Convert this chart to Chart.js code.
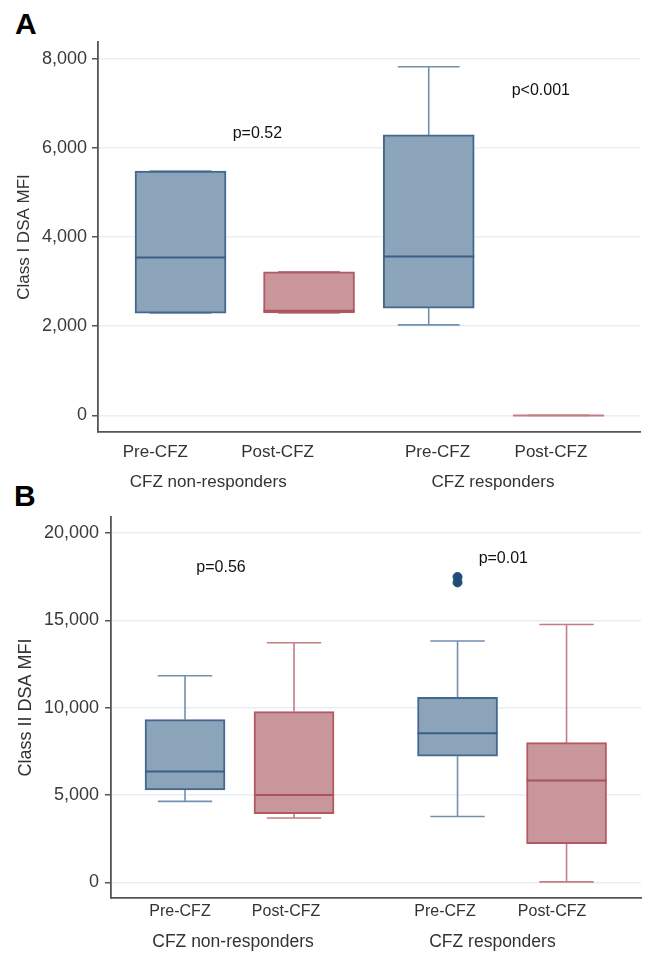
<!DOCTYPE html>
<html>
<head>
<meta charset="utf-8">
<script src="https://cdn.jsdelivr.net/npm/chart.js@4"></script>
<style>
  body { margin: 0; background: #fff; width: 647px; height: 953px; position: relative; overflow: hidden; }
  .panel { position: absolute; left: 0; width: 647px; }
  .letter { position: absolute; font: bold 30px "Liberation Sans", Arial, sans-serif; color: #000; }
</style>
</head>
<body>
<div class="letter" style="left:15px;top:7px;">A</div>
<div class="letter" style="left:14px;top:479px;">B</div>
<div class="panel" style="top:0;height:500px;"><canvas id="chartA"></canvas></div>
<div class="panel" style="top:500px;height:453px;"><canvas id="chartB"></canvas></div>
<script>
document.addEventListener('DOMContentLoaded', function () {
    // categories
    const tickLabels = ['Pre-CFZ', 'Post-CFZ', 'Pre-CFZ', 'Post-CFZ'];
    const groupLabels = ['CFZ non-responders', 'CFZ responders'];
    const isPost = [false, true, false, true];

    // Class I DSA MFI (panel A)
    const minA = [2295, 2300, 2030, 0];
    const q1A = [2295, 2300, 2405, 0];
    const medA = [3540, 2345, 3565, 0];
    const q3A = [5480, 3220, 6290, 0];
    const maxA = [5480, 3220, 7820, 0];
    const outA = [[], [], [], []];
    const yTicksA = [0, 2000, 4000, 6000, 8000];
    const pTextA = ['p=0.52', 'p<0.001'];

    // Class II DSA MFI (panel B)
    const minB = [4640, 3690, 3770, 30];
    const q1B = [5290, 3930, 7220, 2220];
    const medB = [6350, 5010, 8540, 5830];
    const q3B = [9320, 9780, 10600, 8000];
    const maxB = [11830, 13720, 13820, 14760];
    const outB = [[], [], [17480, 17170], []];
    const yTicksB = [0, 5000, 10000, 15000, 20000];
    const pTextB = ['p=0.56', 'p=0.01'];

    const FONT = '"Liberation Sans", Arial, sans-serif';
    const blue = { fill: '#8ca4b9', border: '#43678d', median: '#3a5e85', whisker: '#7091b0' };
    const red = { fill: '#c9979b', border: '#b25a64', median: '#a9535c', whisker: '#c47d84' };

    function boxPlot(id, o) {
        const n = o.med.length;
        const boxData = o.med.map((m, i) => ({ x: o.xPos[i], y: [o.q1[i], o.q3[i]] }));
        const outData = [];
        o.out.forEach((vals, i) => vals.forEach(v => outData.push({ x: o.xPos[i], y: v })));
        const colors = isPost.map(p => p ? red : blue);

        const whiskers = {
            id: 'whiskers',
            beforeDatasetsDraw(chart) {
                const { ctx, scales: { x, y } } = chart;
                ctx.save();
                ctx.lineWidth = 1.6;
                for (let i = 0; i < n; i++) {
                    const cx = x.getPixelForValue(o.xPos[i]);
                    const half = o.boxWidth * 0.34;
                    ctx.strokeStyle = colors[i].whisker;
                    ctx.beginPath();
                    ctx.moveTo(cx, y.getPixelForValue(o.max[i]));
                    ctx.lineTo(cx, y.getPixelForValue(o.q3[i]));
                    ctx.moveTo(cx, y.getPixelForValue(o.q1[i]));
                    ctx.lineTo(cx, y.getPixelForValue(o.min[i]));
                    ctx.moveTo(cx - half, y.getPixelForValue(o.max[i]));
                    ctx.lineTo(cx + half, y.getPixelForValue(o.max[i]));
                    ctx.moveTo(cx - half, y.getPixelForValue(o.min[i]));
                    ctx.lineTo(cx + half, y.getPixelForValue(o.min[i]));
                    ctx.stroke();
                }
                ctx.restore();
            },
            afterDatasetsDraw(chart) {
                const { ctx, scales: { x, y } } = chart;
                ctx.save();
                for (let i = 0; i < n; i++) {
                    const cx = x.getPixelForValue(o.xPos[i]);
                    const half = o.boxWidth / 2;
                    const my = y.getPixelForValue(o.med[i]);
                    const flat = o.q1[i] === o.q3[i];
                    ctx.strokeStyle = flat ? colors[i].whisker : colors[i].median;
                    ctx.lineWidth = 2;
                    ctx.beginPath();
                    ctx.moveTo(cx - half, my);
                    ctx.lineTo(cx + half, my);
                    ctx.stroke();
                }
                ctx.fillStyle = '#111';
                ctx.font = o.pFont + 'px ' + FONT;
                ctx.textAlign = 'center';
                ctx.textBaseline = 'middle';
                o.pText.forEach((t, i) => {
                    ctx.fillText(t, x.getPixelForValue(o.pPos[i][0]), y.getPixelForValue(o.pPos[i][1]));
                });
                ctx.restore();
            }
        };

        return new Chart(document.getElementById(id), {
            data: {
                datasets: [
                    {
                        type: 'bar',
                        data: boxData,
                        backgroundColor: colors.map(c => c.fill),
                        borderColor: colors.map(c => c.border),
                        borderWidth: 2,
                        borderSkipped: false,
                        barThickness: o.boxWidth,
                        grouped: false,
                        order: 2
                    },
                    {
                        type: 'scatter',
                        data: outData,
                        pointRadius: 4.5,
                        pointBackgroundColor: '#1f4c78',
                        pointBorderColor: '#1f4c78',
                        order: 1
                    }
                ]
            },
            options: {
                responsive: true,
                maintainAspectRatio: false,
                animation: false,
                layout: { padding: o.padding },
                plugins: { legend: { display: false }, tooltip: { enabled: false } },
                scales: {
                    x: {
                        type: 'linear',
                        offset: false,
                        min: o.xMin, max: o.xMax,
                        grid: { display: false, drawTicks: false, offset: false },
                        border: { display: true, color: '#555', width: 1.8 },
                        afterBuildTicks: s => { s.ticks = o.labelPos.map(v => ({ value: v })); },
                        afterFit: s => { s.height = o.xHeight; },
                        ticks: {
                            autoSkip: false, maxRotation: 0,
                            padding: o.tickPad,
                            color: '#333',
                            font: { family: FONT, size: o.tickFont },
                            callback: (v, i) => tickLabels[i]
                        }
                    },
                    x2: {
                        type: 'linear',
                        position: 'bottom',
                        offset: false,
                        min: o.xMin, max: o.xMax,
                        grid: { display: false, drawTicks: false, offset: false },
                        border: { display: false },
                        afterBuildTicks: s => { s.ticks = o.groupPos.map(v => ({ value: v })); },
                        afterFit: s => { s.height = o.x2Height; },
                        ticks: {
                            autoSkip: false, maxRotation: 0,
                            padding: o.groupPad,
                            color: '#333',
                            font: { family: FONT, size: o.groupFont },
                            callback: (v, i) => groupLabels[i]
                        }
                    },
                    y: {
                        min: o.yMin, max: o.yMax,
                        afterBuildTicks: s => { s.ticks = o.yTicks.map(v => ({ value: v })); },
                        afterFit: s => { s.width = o.yWidth; },
                        grid: { color: '#e8f0f3', lineWidth: 1.5, tickLength: 6, tickColor: '#555', tickWidth: 1.5 },
                        border: { display: true, color: '#555', width: 1.8 },
                        ticks: {
                            padding: o.yPad,
                            color: '#3a3a3a',
                            font: { family: FONT, size: 18 },
                            callback: v => v.toLocaleString('en-US')
                        },
                        title: {
                            display: true,
                            text: o.yTitle,
                            color: '#333',
                            font: { family: FONT, size: o.titleFont },
                            padding: { top: o.titlePad, bottom: 0 }
                        }
                    }
                }
            },
            plugins: [whiskers]
        });
    }

    boxPlot('chartA', {
        min: minA, q1: q1A, med: medA, q3: q3A, max: maxA, out: outA,
        yTicks: yTicksA, yMin: -372, yMax: 8374,
        xPos: [1, 2.02, 2.97, 4], xMin: 0.345, xMax: 4.647,
        labelPos: [0.80, 1.77, 3.04, 3.94], groupPos: [1.22, 3.48],
        boxWidth: 91,
        pText: pTextA, pPos: [[1.61, 6330], [3.86, 7275]], pFont: 16,
        yTitle: 'Class I DSA MFI', titleFont: 17, titlePad: 14,
        padding: { top: 42, right: 7, left: 0, bottom: 0 },
        yWidth: 98, yPad: 5,
        xHeight: 36, x2Height: 32, tickPad: 10, groupPad: 4,
        tickFont: 17, groupFont: 17
    });

    boxPlot('chartB', {
        min: minB, q1: q1B, med: medB, q3: q3B, max: maxB, out: outB,
        yTicks: yTicksB, yMin: -890, yMax: 20925,
        xPos: [1, 2, 3.5, 4.5], xMin: 0.321, xMax: 5.183,
        labelPos: [0.954, 1.927, 3.385, 4.367], groupPos: [1.44, 3.82],
        boxWidth: 80,
        pText: pTextB, pPos: [[1.33, 18010], [3.92, 18510]], pFont: 16,
        yTitle: 'Class II DSA MFI', titleFont: 18, titlePad: 15,
        padding: { top: 7, right: 6, left: 0, bottom: 0 },
        yWidth: 111, yPad: 6,
        xHeight: 28, x2Height: 27, tickPad: 4, groupPad: 6,
        tickFont: 16, groupFont: 17.5
    });
});
</script>
</body>
</html>
